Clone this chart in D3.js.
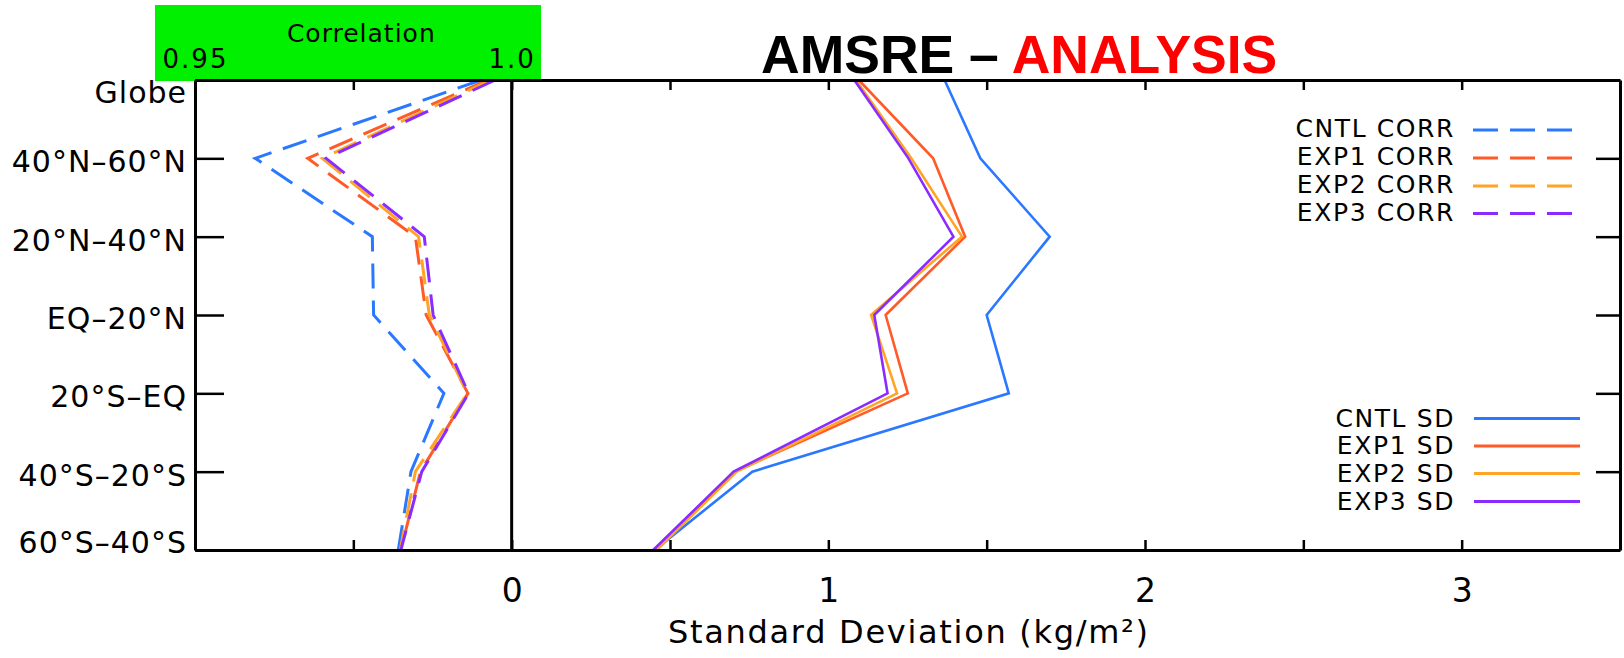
<!DOCTYPE html>
<html>
<head>
<meta charset="utf-8">
<script src="https://cdn.jsdelivr.net/npm/d3@7"></script>
<style>
  html, body { margin: 0; padding: 0; background: #fff; }
  svg { display: block; }
</style>
</head>
<body>
<div id="chart"></div>
<script>
// ---------------- data ----------------
const regions = ["Globe", "40°N–60°N", "20°N–40°N", "EQ–20°N", "20°S–EQ", "40°S–20°S", "60°S–40°S"];

const cntlCorr = [0.9952, 0.9595, 0.9780, 0.9782, 0.9893, 0.9841, 0.9821];
const exp1Corr = [0.9963, 0.9678, 0.9848, 0.9865, 0.9931, 0.9856, 0.9825];
const exp2Corr = [0.9967, 0.9701, 0.9853, 0.9870, 0.9930, 0.9848, 0.9824];
const exp3Corr = [0.9974, 0.9707, 0.9862, 0.9876, 0.9932, 0.9858, 0.9825];

const cntlSD = [1.367, 1.480, 1.699, 1.500, 1.570, 0.760, 0.452];
const exp1SD = [1.096, 1.331, 1.432, 1.181, 1.251, 0.705, 0.458];
const exp2SD = [1.087, 1.262, 1.422, 1.135, 1.217, 0.711, 0.457];
const exp3SD = [1.082, 1.253, 1.395, 1.145, 1.187, 0.701, 0.447];

const sdTicks = [-0.5, 0, 0.5, 1, 1.5, 2, 2.5, 3];
const corrTicks = [0.95, 1.0];
const corrTickLabels = ["0.95", "1.0"];

const corrNames = ["CNTL CORR", "EXP1 CORR", "EXP2 CORR", "EXP3 CORR"];
const sdNames = ["CNTL SD", "EXP1 SD", "EXP2 SD", "EXP3 SD"];
const colors = ["#2a78ff", "#ff5a28", "#ffa424", "#8a2cff"];

// ---------------- layout ----------------
const W = 1624, H = 658;
const L = 195, R = 1620, T = 80, B = 550;
const axisFont = "'DejaVu Sans', 'Liberation Sans', sans-serif";

const svg = d3.select("#chart").append("svg").attr("width", W).attr("height", H);

const x = d3.scaleLinear().domain([-1, 3.5]).range([L, R]);
const xC = d3.scaleLinear().domain([0.95, 1.0]).range([x(-1), x(0)]);
const y = d3.scalePoint().domain(regions).range([T, B]).padding(0);

// green correlation header box
svg.append("rect")
  .attr("x", 155).attr("y", 5).attr("width", 386).attr("height", T - 5 + 1)
  .attr("fill", "#00f000");

svg.append("text")
  .attr("x", xC(0.975) + 8).attr("y", 42)
  .attr("text-anchor", "middle")
  .attr("font-family", axisFont).attr("font-size", 25)
  .attr("letter-spacing", 1)
  .text("Correlation");

const corrAxis = svg.append("g")
  .attr("transform", "translate(0,68)")
  .call(d3.axisTop(xC).tickValues(corrTicks).tickSize(0).tickPadding(0)
    .tickFormat((d, i) => corrTickLabels[i]));
corrAxis.select(".domain").remove();
corrAxis.selectAll("text")
  .attr("font-family", axisFont).attr("font-size", 26).attr("fill", "#000")
  .attr("letter-spacing", 2);

// title
const title = svg.append("text")
  .attr("x", 761).attr("y", 73)
  .attr("font-family", "'Liberation Sans', Arial, sans-serif")
  .attr("font-weight", "bold").attr("font-size", 53.5);
title.append("tspan").attr("fill", "#000").text("AMSRE – ");
title.append("tspan").attr("fill", "#ff0000").text("ANALYSIS");

// ---------------- lines ----------------
function series(vals) { return regions.map((r, i) => ({ r: r, v: vals[i] })); }

const corrSeries = [cntlCorr, exp1Corr, exp2Corr, exp3Corr];
const sdSeries = [cntlSD, exp1SD, exp2SD, exp3SD];

const lineC = d3.line().x(d => xC(d.v)).y(d => y(d.r));
const lineS = d3.line().x(d => x(d.v)).y(d => y(d.r));

corrSeries.forEach((s, i) => {
  svg.append("path")
    .attr("d", lineC(series(s)))
    .attr("fill", "none").attr("stroke", colors[i])
    .attr("stroke-width", 3).attr("stroke-dasharray", "25,12")
    .attr("stroke-linejoin", "miter");
});
sdSeries.forEach((s, i) => {
  svg.append("path")
    .attr("d", lineS(series(s)))
    .attr("fill", "none").attr("stroke", colors[i])
    .attr("stroke-width", 2.6)
    .attr("stroke-linejoin", "miter");
});

// ---------------- axes ----------------
const fmtSD = d => (Number.isInteger(d) && d >= 0) ? String(d) : "";

const xb = svg.append("g").attr("transform", `translate(0,${B})`)
  .call(d3.axisBottom(x).tickValues(sdTicks).tickSizeInner(-10).tickSizeOuter(0)
    .tickPadding(29).tickFormat(fmtSD));
const xt = svg.append("g").attr("transform", `translate(0,${T})`)
  .call(d3.axisTop(x).tickValues(sdTicks).tickSizeInner(-10).tickSizeOuter(0)
    .tickFormat(""));
const yl = svg.append("g").attr("transform", `translate(${L},0)`)
  .call(d3.axisLeft(y).tickSizeInner(-29).tickSizeOuter(0).tickPadding(8));
const yr = svg.append("g").attr("transform", `translate(${R},0)`)
  .call(d3.axisRight(y).tickSizeInner(-24).tickSizeOuter(0).tickFormat(""));

[xb, xt, yl, yr].forEach(g => {
  g.select(".domain").attr("stroke", "#000").attr("stroke-width", 3);
  g.selectAll(".tick line").attr("stroke", "#000").attr("stroke-width", 2.5);
  g.selectAll("text").attr("font-family", axisFont).attr("fill", "#000");
});
xb.selectAll("text").attr("font-size", 33);
yl.selectAll("text").attr("font-size", 30).attr("letter-spacing", 1)
  .attr("dy", (d, i) => i === 0 ? "22px" : (i === regions.length - 1 ? "2px" : "13.5px"));

// zero line
svg.append("line")
  .attr("x1", x(0)).attr("x2", x(0)).attr("y1", T).attr("y2", B)
  .attr("stroke", "#000").attr("stroke-width", 3);

// x axis title
const xt2 = svg.append("text")
  .attr("x", 668).attr("y", 643)
  .attr("font-family", axisFont).attr("font-size", 32)
  .attr("letter-spacing", 1.7);
xt2.text("Standard Deviation (kg/m²)");

// ---------------- legends ----------------
const corrLegY = [130, 158, 186, 213.5];
const sdLegY = [418.5, 446, 473.5, 501.5];

corrNames.forEach((n, i) => {
  svg.append("text")
    .attr("x", 1455).attr("y", corrLegY[i] + 7)
    .attr("text-anchor", "end")
    .attr("font-family", axisFont).attr("font-size", 25)
    .attr("letter-spacing", 1.6)
    .text(n);
  svg.append("line")
    .attr("x1", 1473).attr("x2", 1572)
    .attr("y1", corrLegY[i]).attr("y2", corrLegY[i])
    .attr("stroke", colors[i]).attr("stroke-width", 3)
    .attr("stroke-dasharray", "25,12");
});
sdNames.forEach((n, i) => {
  svg.append("text")
    .attr("x", 1455).attr("y", sdLegY[i] + 8)
    .attr("text-anchor", "end")
    .attr("font-family", axisFont).attr("font-size", 25)
    .attr("letter-spacing", 1.6)
    .text(n);
  svg.append("line")
    .attr("x1", 1474).attr("x2", 1580)
    .attr("y1", sdLegY[i]).attr("y2", sdLegY[i])
    .attr("stroke", colors[i]).attr("stroke-width", 3);
});
</script>
</body>
</html>
